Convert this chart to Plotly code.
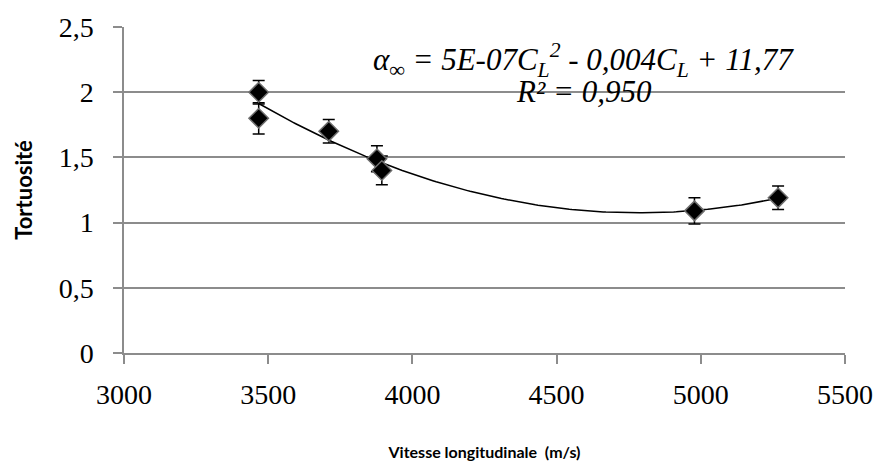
import numpy as np
import plotly.graph_objects as go

# Measured longitudinal velocity (m/s) and tortuosity
vitesse = [3467, 3467, 3710, 3877, 3894, 4978, 5268]
tortuosite = [2.00, 1.80, 1.70, 1.49, 1.40, 1.09, 1.19]
erreur = [0.09, 0.12, 0.09, 0.10, 0.11, 0.10, 0.09]

x_ticks = [3000, 3500, 4000, 4500, 5000, 5500]
y_ticks = [0, 0.5, 1, 1.5, 2, 2.5]
y_labels = ["0", "0,5", "1", "1,5", "2", "2,5"]

# Second-order polynomial trendline
coef = np.polyfit(vitesse, tortuosite, 2)
xs = np.linspace(min(vitesse), max(vitesse), 200)
ys = np.polyval(coef, xs)

grid = "#8c8c8c"
serif = "Liberation Serif, Times New Roman, serif"
sans = "Lato, Open Sans, sans-serif"

# plot area in pixels
L, R, T, B = 124, 38, 20, 122
W, H = 885, 475
pw, ph = W - L - R, H - T - B

fig = go.Figure()
fig.add_trace(go.Scatter(
    x=xs, y=ys, mode="lines",
    line=dict(color="black", width=1.5),
    hoverinfo="skip", showlegend=False,
))
fig.add_trace(go.Scatter(
    x=vitesse, y=tortuosite, mode="markers",
    marker=dict(symbol="diamond", size=15, color="black",
                line=dict(color="#6e6e6e", width=1.5)),
    error_y=dict(type="data", array=erreur, visible=True,
                 color="black", thickness=1.5, width=6),
    showlegend=False,
))

eq_font = dict(family=serif, size=31, color="black", style="italic")
fig.add_annotation(
    xref="paper", yref="paper", x=(585 - L) / pw, y=(T + ph - 54) / ph,
    showarrow=False,
    text="α<sub>∞</sub> = 5E-07C<sub>L</sub><sup>2</sup> - 0,004C<sub>L</sub> + 11,77",
    font=eq_font, xanchor="center", yanchor="middle",
)
fig.add_annotation(
    xref="paper", yref="paper", x=(585 - L) / pw, y=(T + ph - 86) / ph,
    showarrow=False,
    text="R² = 0,950",
    font=eq_font, xanchor="center", yanchor="middle",
)

fig.update_layout(
    width=W, height=H,
    margin=dict(l=L, r=R, t=T, b=B),
    paper_bgcolor="white", plot_bgcolor="white",
    font=dict(family=serif, size=28, color="black"),
)
fig.update_xaxes(
    range=[3000, 5500], tickvals=x_ticks, ticktext=[str(v) for v in x_ticks],
    showgrid=False, zeroline=False,
    showline=True, linecolor=grid, linewidth=1.5,
    ticks="outside", ticklen=9, tickcolor=grid, tickwidth=1.5,
    ticklabelstandoff=7,
    title=dict(text="<b>Vitesse longitudinale  (m/s)</b>",
               font=dict(family=sans, size=16, color="black"), standoff=37),
)
fig.update_yaxes(
    range=[0, 2.5], tickvals=y_ticks, ticktext=y_labels,
    showgrid=True, gridcolor=grid, gridwidth=1.5, zeroline=False,
    showline=True, linecolor=grid, linewidth=1.5,
    ticks="outside", ticklen=9, tickcolor=grid, tickwidth=1.5,
    ticklabelstandoff=14,
    title=dict(text="<b>Tortuosité</b>",
               font=dict(family=sans, size=22, color="black"), standoff=20),
)

fig.write_html("out.html")
